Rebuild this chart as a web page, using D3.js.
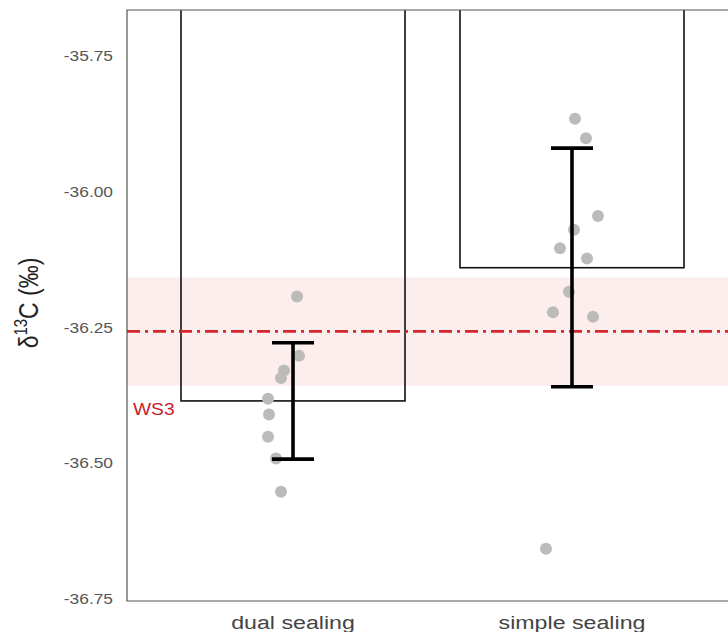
<!DOCTYPE html>
<html>
<head>
<meta charset="utf-8">
<script src="https://cdn.jsdelivr.net/npm/d3@7"></script>
<style>
  body { margin: 0; background: #fff; }
  svg { display: block; font-family: "Liberation Sans", Arial, sans-serif; }
</style>
</head>
<body>
<svg id="chart" width="728" height="632"></svg>
<script>
// Data
const groups = ['dual sealing', 'simple sealing'];
const means = [-36.386, -36.141];
const errLow = [-36.493, -36.360];
const errHigh = [-36.279, -35.921];
const dualPoints = [-36.194, -36.303, -36.330, -36.344, -36.382, -36.411, -36.452, -36.492, -36.553];
const dualJitter = [4, 6, -9, -12, -25, -24, -25, -17, -12];
const simplePoints = [-35.867, -35.903, -36.046, -36.071, -36.105, -36.124, -36.185, -36.223, -36.231, -36.658];
const simpleJitter = [3, 14, 26, 2, -12, 15, -3, -19, 21, -26];
const refMean = -36.258;
const refLow = -36.358;
const refHigh = -36.159;
const yTicks = [-35.75, -36.00, -36.25, -36.50, -36.75];

const svg = d3.select('#chart');
const pLeft = 127, pRight = 740, pTop = 10, pBottom = 601;
const stretch = 1.24; // text in the reference is drawn wider than tall

const y = d3.scaleLinear().domain([-35.667, -36.754]).range([pTop, pBottom]);
const x = d3.scaleBand().domain(groups).range([181, 684]).paddingInner(0.197).paddingOuter(0);

svg.append('clipPath').attr('id', 'plotClip')
  .append('rect').attr('x', pLeft).attr('y', pTop).attr('width', pRight - pLeft).attr('height', pBottom - pTop);

const g = svg.append('g').attr('clip-path', 'url(#plotClip)');

// reference band
g.append('rect')
  .attr('x', pLeft).attr('width', pRight - pLeft)
  .attr('y', y(refHigh)).attr('height', y(refLow) - y(refHigh))
  .attr('fill', '#fdeeee');

// bars (from 0 down to mean, clipped at top)
g.selectAll('rect.bar').data(groups).enter().append('rect')
  .attr('class', 'bar')
  .attr('x', d => x(d))
  .attr('width', x.bandwidth())
  .attr('y', pTop - 20)
  .attr('height', (d, i) => y(means[i]) - (pTop - 20))
  .attr('fill', 'none')
  .attr('stroke', '#111')
  .attr('stroke-width', 1.6);

// reference line
g.append('line')
  .attr('x1', pLeft).attr('x2', pRight)
  .attr('y1', y(refMean)).attr('y2', y(refMean))
  .attr('stroke', '#d7262b').attr('stroke-width', 2.6)
  .attr('stroke-dasharray', '13,5,3,5');

// points
const pts = [];
dualPoints.forEach((v, i) => pts.push({ g: groups[0], v, j: dualJitter[i] }));
simplePoints.forEach((v, i) => pts.push({ g: groups[1], v, j: simpleJitter[i] }));
g.selectAll('circle').data(pts).enter().append('circle')
  .attr('cx', d => x(d.g) + x.bandwidth() / 2 + d.j)
  .attr('cy', d => y(d.v))
  .attr('r', 6)
  .attr('fill', '#bdbaba');

// error bars
groups.forEach((grp, i) => {
  const cx = x(grp) + x.bandwidth() / 2;
  const eb = g.append('g').attr('stroke', '#000').attr('stroke-width', 3.6);
  eb.append('line').attr('x1', cx).attr('x2', cx).attr('y1', y(errHigh[i])).attr('y2', y(errLow[i]));
  eb.append('line').attr('x1', cx - 21).attr('x2', cx + 21).attr('y1', y(errHigh[i])).attr('y2', y(errHigh[i]));
  eb.append('line').attr('x1', cx - 21).attr('x2', cx + 21).attr('y1', y(errLow[i])).attr('y2', y(errLow[i]));
});

// panel border
svg.append('path')
  .attr('d', `M${pRight},${pTop}H${pLeft}V${pBottom}H${pRight}`)
  .attr('fill', 'none').attr('stroke', '#555').attr('stroke-width', 1.2);

// y ticks
const yAxis = d3.axisLeft(y).tickValues(yTicks).tickSize(0).tickPadding(14);
const ya = svg.append('g').attr('transform', `translate(${pLeft},0)`).call(yAxis);
ya.select('.domain').remove();
ya.selectAll('text')
  .attr('font-size', 14).attr('fill', '#555').attr('font-family', '"Liberation Sans", Arial, sans-serif')
  .attr('x', 0).attr('dy', '0.36em')
  .attr('transform', `translate(-14,0) scale(${stretch},1)`)
  .text(d => d.toFixed(2));

// x labels
const xAxis = d3.axisBottom(x).tickSize(0);
const xa = svg.append('g').attr('transform', `translate(0,${pBottom})`).call(xAxis);
xa.select('.domain').remove();
xa.selectAll('text')
  .attr('font-size', 19).attr('fill', '#444').attr('font-family', '"Liberation Sans", Arial, sans-serif')
  .attr('y', 28).attr('dy', 0)
  .attr('transform', `scale(1.22,1)`);

// WS3 label
svg.append('text')
  .attr('transform', `translate(133,415) scale(1.2,1)`)
  .attr('font-size', 16).attr('fill', '#c8202a').text('WS3');

// y title
const yt = svg.append('text')
  .attr('transform', `translate(38,303) scale(${stretch},1) rotate(-90)`)
  .attr('text-anchor', 'middle').attr('font-size', 23).attr('fill', '#222');
yt.append('tspan').text('δ');
yt.append('tspan').attr('font-size', 15).attr('dy', -9).text('13');
yt.append('tspan').attr('dy', 9).text('C (‰)');
</script>
</body>
</html>
